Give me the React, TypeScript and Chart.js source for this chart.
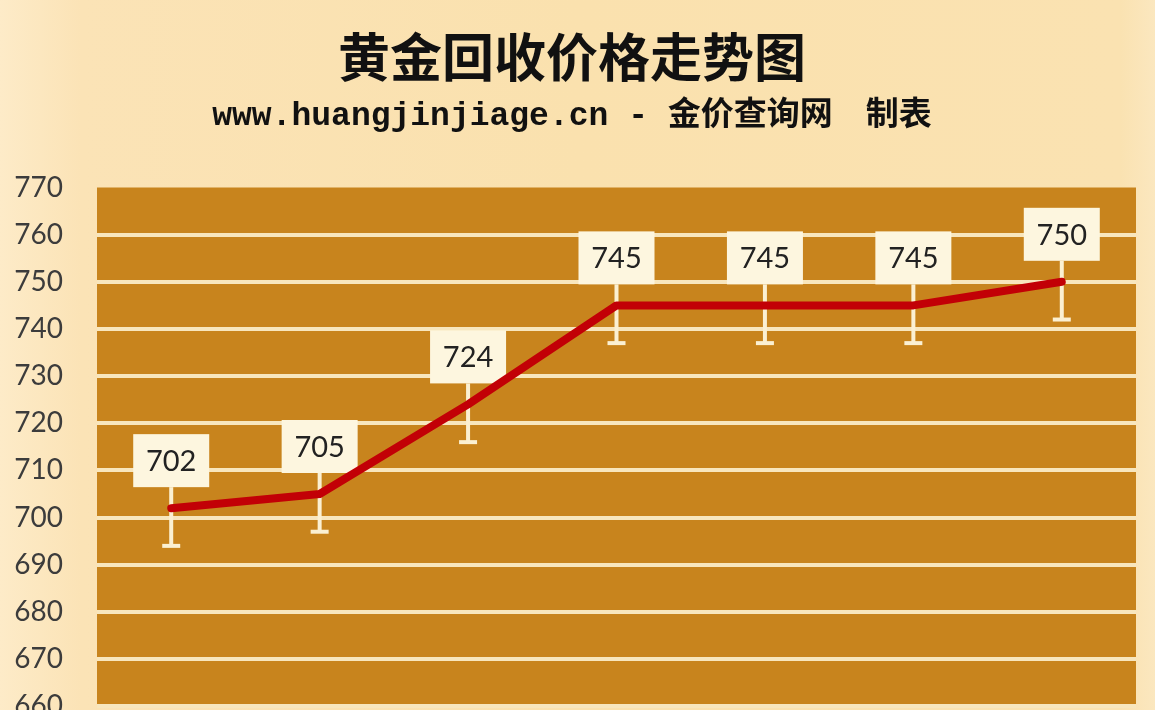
import React, { useEffect, useRef } from "react";
import { Chart, registerables } from "chart.js";

Chart.register(...registerables);

const categories = ["1", "2", "3", "4", "5", "6", "7"];
const prices = [702, 705, 724, 745, 745, 745, 750];
const errorBelow = [8, 8, 8, 8, 8, 8, 8];
const yMin = 660;
const yMax = 770;
const yStep = 10;
const titleText = "黄金回收价格走势图";
const subtitleText = "www.huangjinjiage.cn - 金价查询网　制表";

const W = 1155;
const H = 757;

const backgroundPlugin = {
  id: "bgPlugin",
  beforeDraw(chart: any) {
    const { ctx, chartArea } = chart;
    ctx.save();
    const g = ctx.createLinearGradient(0, 0, W, 0);
    g.addColorStop(0, "#fdebc8");
    g.addColorStop(0.07, "#fbe3b6");
    g.addColorStop(0.5, "#fae1ae");
    g.addColorStop(0.97, "#fae2b1");
    g.addColorStop(1, "#fbe7bf");
    ctx.fillStyle = g;
    ctx.fillRect(0, 0, W, H);
    ctx.fillStyle = "#c8841d";
    ctx.fillRect(chartArea.left, chartArea.top, chartArea.right - chartArea.left, chartArea.bottom - chartArea.top);
    // titles
    ctx.fillStyle = "#111111";
    ctx.textAlign = "center";
    ctx.textBaseline = "middle";
    ctx.font = "bold 52px 'Noto Sans CJK SC'";
    ctx.fillText(titleText, 572, 57);
    ctx.font = "bold 33px 'Liberation Mono', 'Noto Sans CJK SC'";
    ctx.fillText(subtitleText, 572, 117);
    ctx.restore();
  },
};

const labelPlugin = {
  id: "labelPlugin",
  beforeDatasetsDraw(chart: any) {
    const { ctx } = chart;
    const meta = chart.getDatasetMeta(0);
    const yScale = chart.scales.y;
    ctx.save();
    meta.data.forEach((pt: any, i: number) => {
      const x = pt.x;
      const y = pt.y;
      const boxW = 76;
      const boxH = 53;
      const boxBottom = y - 21;
      const boxTop = boxBottom - boxH;
      const yLow = yScale.getPixelForValue(prices[i] - errorBelow[i]);
      // whisker
      ctx.strokeStyle = "#fbf0d2";
      ctx.lineWidth = 4;
      ctx.beginPath();
      ctx.moveTo(x, boxBottom);
      ctx.lineTo(x, yLow);
      ctx.stroke();
      ctx.beginPath();
      ctx.moveTo(x - 9, yLow);
      ctx.lineTo(x + 9, yLow);
      ctx.stroke();
      // box
      ctx.fillStyle = "#fdf6df";
      ctx.fillRect(x - boxW / 2, boxTop, boxW, boxH);
      ctx.fillStyle = "#222222";
      ctx.font = "29px Lato";
      ctx.textAlign = "center";
      ctx.textBaseline = "middle";
      ctx.fillText(String(prices[i]), x, boxTop + boxH / 2 + 1);
    });
    ctx.restore();
  },
};

export default function App() {
  const ref = useRef<HTMLCanvasElement | null>(null);
  useEffect(() => {
    document.body.style.margin = "0";
    const canvas = ref.current;
    if (!canvas) return;
    const chart = new Chart(canvas, {
      type: "line",
      data: {
        labels: categories,
        datasets: [
          {
            data: prices,
            borderColor: "#c20006",
            borderWidth: 8,
            pointRadius: 0,
            tension: 0,
            fill: false,
            borderCapStyle: "round",
            borderJoinStyle: "round",
          },
        ],
      },
      options: {
        animation: false,
        responsive: false,
        devicePixelRatio: 1,
        layout: { padding: { top: 187.5, bottom: 0, left: 0, right: 19 } },
        plugins: {
          legend: { display: false },
          tooltip: { enabled: false },
          title: { display: false },
        },
        scales: {
          x: {
            type: "category",
            offset: true,
            display: false,
          },
          y: {
            min: yMin,
            max: yMax,
            ticks: {
              stepSize: yStep,
              color: "#3c3c3c",
              font: { family: "Lato", size: 28 },
              padding: 34,
            },
            border: { display: false },
            grid: {
              drawTicks: false,
              lineWidth: 4,
              color: (c: any) => (c.tick && c.tick.value === yMax ? "rgba(0,0,0,0)" : "#f8e6bd"),
            },
            afterFit(scale: any) {
              scale.width = 97;
            },
          },
        },
      },
      plugins: [backgroundPlugin, labelPlugin],
    });
    return () => chart.destroy();
  }, []);
  return (
    <div style={{ position: "fixed", left: 0, top: 0, width: W, height: 710, overflow: "hidden" }}>
      <canvas ref={ref} width={W} height={H} style={{ width: W, height: H, display: "block" }} />
    </div>
  );
}
